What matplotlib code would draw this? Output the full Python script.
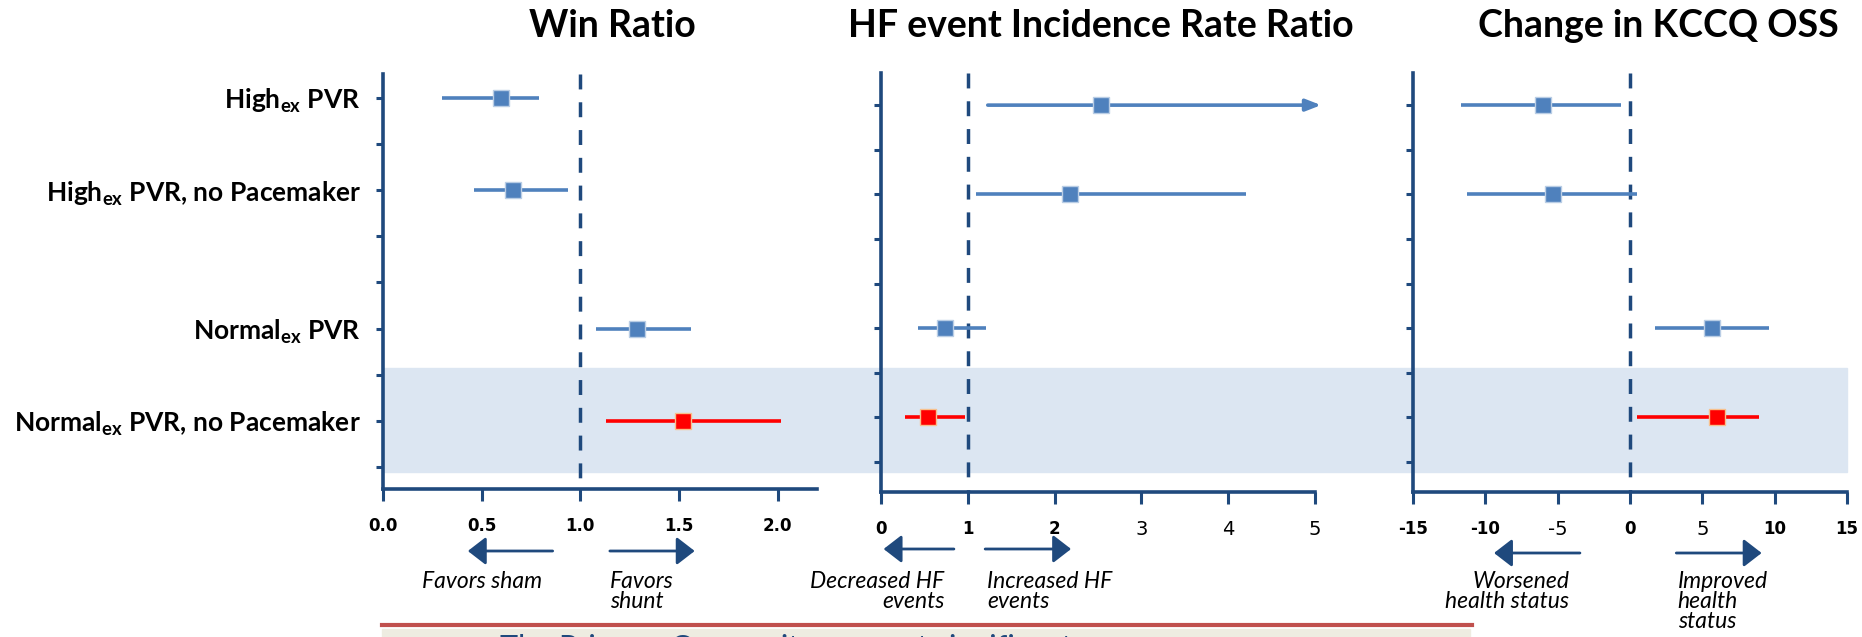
import matplotlib.pyplot as plt
from matplotlib.patches import Rectangle
from matplotlib.lines import Line2D
from matplotlib.transforms import blended_transform_factory

# data
row_labels = ['High$_{\\mathregular{ex}}$ PVR',
              'High$_{\\mathregular{ex}}$ PVR, no Pacemaker',
              'Normal$_{\\mathregular{ex}}$ PVR',
              'Normal$_{\\mathregular{ex}}$ PVR, no Pacemaker']
row_pos = [1, 3, 6, 8]
row_colors = ['#4f81bd', '#4f81bd', '#4f81bd', '#ff0000']

win_est = [0.60, 0.66, 1.29, 1.52]
win_lo = [0.30, 0.46, 1.08, 1.13]
win_hi = [0.79, 0.94, 1.56, 2.02]

hf_est = [2.53, 2.18, 0.74, 0.54]
hf_lo = [1.23, 1.10, 0.43, 0.28]
hf_hi = [5.07, 4.21, 1.21, 0.97]

kccq_est = [-6.0, -5.3, 5.7, 6.0]
kccq_lo = [-11.7, -11.3, 1.7, 0.5]
kccq_hi = [-0.6, 0.5, 9.6, 8.9]

win_ticks = [0.0, 0.5, 1.0, 1.5, 2.0]
win_ticklabels = ['0.0', '0.5', '1.0', '1.5', '2.0']
hf_ticks = [0, 1, 2, 3, 4, 5]
hf_ticklabels = ['0', '1', '2', '3', '4', '5']
kccq_ticks = [-15, -10, -5, 0, 5, 10, 15]
kccq_ticklabels = ['-15', '-10', '-5', '0', '5', '10', '15']

navy = '#1f497d'
W, H = 1862, 637

fig = plt.figure(figsize=(W / 100, H / 100), dpi=100)


def box(l, t, r, b):
    return [l / W, 1 - b / H, (r - l) / W, (b - t) / H]


def fy(py):
    return 1 - py / H


# shaded band behind last row
fig.add_artist(Rectangle((383 / W, fy(472)), (1847 - 383) / W, 104 / H,
                         transform=fig.transFigure, color='#dce6f2', zorder=-5))


def forest(ax, est, lo, hi, xlim, ylim, ref, ticks, ticklabels):
    ax.patch.set_alpha(0)
    ax.plot([ref, ref], [ylim[1], ylim[0]], color=navy, lw=2.5,
            dashes=(4.3, 3.7), zorder=2)
    for y, e, l, h, c in zip(row_pos, est, lo, hi, row_colors):
        edge = '#f8c08c' if c == '#ff0000' else '#b9cde5'
        if h > xlim[1]:
            ax.annotate('', xy=(h, y), xytext=(l, y),
                        arrowprops=dict(arrowstyle='-|>,head_length=0.9,head_width=0.35',
                                        lw=2.6, color=c, shrinkA=0, shrinkB=0),
                        annotation_clip=False, zorder=3)
        else:
            ax.plot([l, h], [y, y], color=c, lw=2.6, solid_capstyle='butt', zorder=3)
        ax.plot(e, y, 's', ms=11, mfc=c, mec=edge, mew=1, zorder=4)
    ax.set_xlim(*xlim)
    ax.set_ylim(*ylim)
    for s in ['top', 'right']:
        ax.spines[s].set_visible(False)
    for s in ['left', 'bottom']:
        ax.spines[s].set_color(navy)
        ax.spines[s].set_linewidth(2.6)
    ax.set_xticks(ticks)
    ax.set_xticklabels(ticklabels, fontsize=12, fontweight='bold')
    ax.set_yticks(range(1, 10))
    ax.tick_params(axis='x', direction='out', length=8.5, width=2.2,
                   color=navy, pad=12)
    ax.tick_params(axis='y', direction='out', length=5, width=2.2, color=navy)


ax1 = fig.add_axes(box(383, 74, 817, 489))
ax2 = fig.add_axes(box(881, 73, 1315, 492))
ax3 = fig.add_axes(box(1413, 73, 1847, 492))

forest(ax1, win_est, win_lo, win_hi, (0, 2.2), (9.48, 0.48), 1.0,
       win_ticks, win_ticklabels)
forest(ax2, hf_est, hf_lo, hf_hi, (0, 5), (9.67, 0.28), 1.0,
       hf_ticks, hf_ticklabels)
forest(ax3, kccq_est, kccq_lo, kccq_hi, (-15, 15), (9.67, 0.28), 0.0,
       kccq_ticks, kccq_ticklabels)

ylabels = [''] * 9
for p, lab in zip(row_pos, row_labels):
    ylabels[p - 1] = lab
ax1.set_yticklabels(ylabels, fontsize=19, fontweight='bold', family='Lato')
ax1.tick_params(axis='y', pad=11)
ax2.set_yticklabels([''] * 9)
ax3.set_yticklabels([''] * 9)

# a few tick labels in the source are set in a plain, larger face
for ax, plain in [(ax2, ['3', '4', '5']), (ax3, ['-5', '5'])]:
    for t in ax.get_xticklabels():
        if t.get_text() in plain:
            t.set_fontweight('normal')
            t.set_fontsize(14)

# panel titles
for x, title in [(612, 'Win Ratio'), (1101, 'HF event Incidence Rate Ratio'),
                 (1658, 'Change in KCCQ OSS')]:
    fig.text(x / W, fy(26), title, ha='center', va='center', fontsize=27,
             fontweight='bold', family='Lato')


def hint(ax, x0, x1, y_px):
    tr = blended_transform_factory(ax.transData, fig.transFigure)
    ax.annotate('', xy=(x1, fy(y_px)), xytext=(x0, fy(y_px)), xycoords=tr,
                textcoords=tr, annotation_clip=False,
                arrowprops=dict(arrowstyle='-|>,head_length=1.1,head_width=0.85',
                                lw=2, color=navy, shrinkA=0, shrinkB=0))


def caption(ax, x, text, ha):
    tr = blended_transform_factory(ax.transData, fig.transFigure)
    ax.text(x, fy(571), text, transform=tr, ha=ha, va='top', multialignment=ha,
            style='italic', fontsize=16.5, family='Lato', linespacing=0.95)


hint(ax1, 0.86, 0.43, 551)
hint(ax1, 1.15, 1.58, 551)
caption(ax1, 0.196, 'Favors sham', 'left')
caption(ax1, 1.15, 'Favors\nshunt', 'left')

hint(ax2, 0.84, 0.03, 549)
hint(ax2, 1.20, 2.19, 549)
caption(ax2, 0.73, 'Decreased HF\nevents', 'right')
caption(ax2, 1.22, 'Increased HF\nevents', 'left')

hint(ax3, -3.46, -9.4, 553)
hint(ax3, 3.2, 9.1, 553)
caption(ax3, -4.2, 'Worsened\nhealth status', 'right')
caption(ax3, 3.3, 'Improved\nhealth\nstatus', 'left')

# cut-off banner at the bottom (only the tops of its letters show)
fig.add_artist(Rectangle((382 / W, 0), (1470 - 382) / W, fy(629),
                         transform=fig.transFigure, color='#eeece1', zorder=-5))
fig.add_artist(Line2D([382 / W, 1472 / W], [fy(625), fy(625)], color='#c0504d', lw=3))
fig.text(500 / W, fy(634), 'The Primary Composite was not significant',
         ha='left', va='top', fontsize=22, color=navy, family='Lato')

fig.savefig('out.png', dpi=100)
